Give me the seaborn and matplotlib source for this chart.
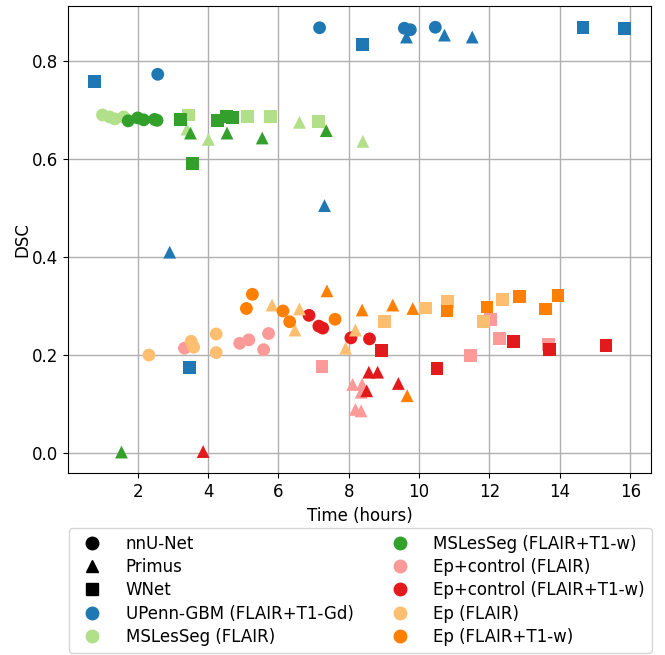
import pandas as pd
import numpy as np
import seaborn as sns
from matplotlib import pyplot as plt
from matplotlib.lines import Line2D

# 数据集和模型
datasets = ['UPenn-GBM (FLAIR+T1-Gd)', 'MSLesSeg (FLAIR)', 'MSLesSeg (FLAIR+T1-w)',
            'Ep+control (FLAIR)', 'Ep+control (FLAIR+T1-w)', 'Ep (FLAIR)', 'Ep (FLAIR+T1-w)']
models = ['nnU-Net', 'Primus', 'WNet']

# 每个数据集: 每个模型的 (time, dsc)
upenn_nnunet_t = [2.57, 7.17, 9.58, 9.75, 10.46]
upenn_nnunet_d = [0.773, 0.868, 0.867, 0.864, 0.869]
upenn_primus_t = [2.91, 7.31, 9.64, 10.72, 11.51]
upenn_primus_d = [0.410, 0.505, 0.849, 0.853, 0.849]
upenn_wnet_t = [0.78, 3.48, 8.39, 14.66, 15.83]
upenn_wnet_d = [0.758, 0.174, 0.834, 0.868, 0.866]

msf_nnunet_t = [1.0, 1.2, 1.35, 1.6]
msf_nnunet_d = [0.690, 0.686, 0.682, 0.686]
msf_primus_t = [3.40, 4.01, 6.60, 8.40]
msf_primus_d = [0.661, 0.640, 0.675, 0.636]
msf_wnet_t = [3.44, 5.11, 5.77, 7.13]
msf_wnet_d = [0.690, 0.687, 0.687, 0.677]

mst_nnunet_t = [1.73, 2.0, 2.17, 2.48, 2.55]
mst_nnunet_d = [0.678, 0.684, 0.680, 0.681, 0.679]
mst_primus_t = [1.54, 3.50, 4.54, 5.54, 7.36]
mst_primus_d = [0.002, 0.653, 0.653, 0.643, 0.658]
mst_wnet_t = [3.22, 3.56, 4.26, 4.52, 4.69]
mst_wnet_d = [0.680, 0.591, 0.679, 0.687, 0.685]

ecf_nnunet_t = [3.33, 4.90, 5.16, 5.58, 5.72]
ecf_nnunet_d = [0.214, 0.224, 0.231, 0.211, 0.244]
ecf_primus_t = [8.11, 8.38, 8.35, 8.19, 8.35]
ecf_primus_d = [0.140, 0.140, 0.124, 0.089, 0.086]
ecf_wnet_t = [7.24, 11.47, 12.04, 12.28, 13.67]
ecf_wnet_d = [0.176, 0.199, 0.272, 0.233, 0.221]

ect_nnunet_t = [6.87, 7.15, 7.26, 8.06, 8.59]
ect_nnunet_d = [0.281, 0.259, 0.255, 0.235, 0.233]
ect_primus_t = [3.86, 8.57, 8.82, 8.51, 9.41]
ect_primus_d = [0.003, 0.165, 0.165, 0.127, 0.142]
ect_wnet_t = [8.92, 10.51, 12.68, 13.70, 15.31]
ect_wnet_d = [0.209, 0.172, 0.227, 0.212, 0.220]

epf_nnunet_t = [2.32, 3.52, 3.59, 4.23, 4.23]
epf_nnunet_d = [0.200, 0.228, 0.216, 0.243, 0.205]
epf_primus_t = [5.82, 6.60, 6.47, 8.19, 7.91]
epf_primus_d = [0.302, 0.294, 0.251, 0.251, 0.214]
epf_wnet_t = [9.01, 10.18, 10.80, 11.82, 12.36]
epf_wnet_d = [0.268, 0.296, 0.309, 0.268, 0.313]

ept_nnunet_t = [5.26, 5.09, 6.13, 6.32, 7.61]
ept_nnunet_d = [0.324, 0.295, 0.290, 0.268, 0.273]
ept_primus_t = [7.38, 8.38, 9.25, 9.82, 9.66]
ept_primus_d = [0.331, 0.292, 0.302, 0.295, 0.117]
ept_wnet_t = [10.79, 11.93, 12.85, 13.60, 13.95]
ept_wnet_d = [0.290, 0.298, 0.319, 0.294, 0.321]

all_t = [
    [upenn_nnunet_t, upenn_primus_t, upenn_wnet_t],
    [msf_nnunet_t, msf_primus_t, msf_wnet_t],
    [mst_nnunet_t, mst_primus_t, mst_wnet_t],
    [ecf_nnunet_t, ecf_primus_t, ecf_wnet_t],
    [ect_nnunet_t, ect_primus_t, ect_wnet_t],
    [epf_nnunet_t, epf_primus_t, epf_wnet_t],
    [ept_nnunet_t, ept_primus_t, ept_wnet_t],
]
all_d = [
    [upenn_nnunet_d, upenn_primus_d, upenn_wnet_d],
    [msf_nnunet_d, msf_primus_d, msf_wnet_d],
    [mst_nnunet_d, mst_primus_d, mst_wnet_d],
    [ecf_nnunet_d, ecf_primus_d, ecf_wnet_d],
    [ect_nnunet_d, ect_primus_d, ect_wnet_d],
    [epf_nnunet_d, epf_primus_d, epf_wnet_d],
    [ept_nnunet_d, ept_primus_d, ept_wnet_d],
]

rows = []
for i, ds in enumerate(datasets):
    for j, m in enumerate(models):
        for t, d in zip(all_t[i][j], all_d[i][j]):
            rows.append({'Time (hours)': t, 'DSC': d, 'dataset': ds, 'model': m})
df = pd.DataFrame(rows)

colors = sns.color_palette('Paired')[1:8]
markers = {'nnU-Net': 'o', 'Primus': '^', 'WNet': 's'}

plt.rcParams['font.size'] = 12
fig = plt.figure(figsize=(6.65, 6.55), dpi=100)
ax = fig.add_axes([0.1027, 0.2774, 0.8758, 0.7134])
sns.scatterplot(data=df, x='Time (hours)', y='DSC', hue='dataset', style='model',
                hue_order=datasets, style_order=models, palette=colors,
                markers=markers, s=85, linewidth=0, legend=False, ax=ax, zorder=3)
ax.grid(True, color='#b0b0b0', linewidth=1.0)
ax.set_axisbelow(True)
ax.set_xticks([2, 4, 6, 8, 10, 12, 14, 16])
ax.set_yticks([0.0, 0.2, 0.4, 0.6, 0.8])
ax.set_ylabel('DSC', labelpad=0.5)

handles = []
for m in models:
    handles.append(Line2D([], [], linestyle='none', marker=markers[m], color='black',
                          markersize=9, label=m))
for c, ds in zip(colors, datasets):
    handles.append(Line2D([], [], linestyle='none', marker='o', color=c,
                          markersize=9, label=ds))
fig.legend(handles=handles, ncol=2, loc='upper left',
           bbox_to_anchor=(0.104, 0.194, 0.876, 0), mode='expand',
           fontsize=12, labelspacing=0.32, handletextpad=1.0, borderaxespad=0)

fig.savefig('out.png', dpi=100)
